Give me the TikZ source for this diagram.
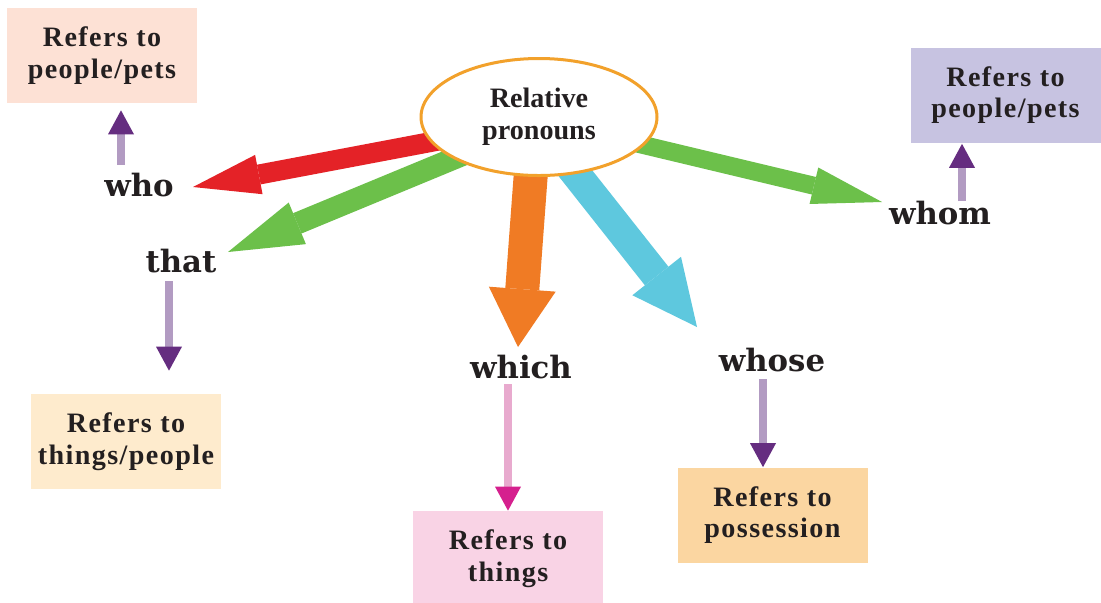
\documentclass[tikz,border=0pt]{standalone}
\usepackage{fontspec}
\setmainfont{Liberation Serif}
\newfontfamily\boxfont{Liberation Serif}[LetterSpace=5]
\newfontfamily\wordfont{DejaVu Serif}
\usetikzlibrary{arrows.meta,shapes.geometric,backgrounds,calc}

\definecolor{boxpeach}{HTML}{FDE1D5}
\definecolor{boxlilac}{HTML}{C7C3E1}
\definecolor{boxcream}{HTML}{FEEBCD}
\definecolor{boxpink}{HTML}{F9D3E5}
\definecolor{boxorange}{HTML}{FBD6A1}
\definecolor{ringorange}{HTML}{F2A12B}
\definecolor{arrowred}{HTML}{E42227}
\definecolor{arrowgreen}{HTML}{6CC04A}
\definecolor{arroworange}{HTML}{F07B24}
\definecolor{arrowcyan}{HTML}{5EC8DE}
\definecolor{shaftpurple}{HTML}{B29BC2}
\definecolor{headpurple}{HTML}{652D80}
\definecolor{shaftpink}{HTML}{E8AACE}
\definecolor{headpink}{HTML}{D5208E}
\definecolor{inkdark}{HTML}{231F20}

\begin{document}
\begin{tikzpicture}[x=0.2mm, y=-0.2mm, text=inkdark,
    infobox/.style={rectangle, minimum width=38mm, minimum height=19mm, inner sep=0pt,
      align=center, font=\boxfont\fontsize{16}{18}\selectfont\bfseries},
    pronoun/.style={inner sep=1pt, font=\wordfont\fontsize{17.5}{20}\selectfont\bfseries},
    bigarrow/.style={shorten <=-8mm},
    linkarrow/.style={line width=1.6mm, draw=shaftpurple,
      -{Triangle[length=4.8mm, width=5.2mm, line width=0pt, color=headpurple]}},
    pinkarrow/.style={line width=1.6mm, draw=shaftpink,
      -{Triangle[length=4.8mm, width=5.2mm, line width=0pt, color=headpink]}}]
    \useasboundingbox (0,0) rectangle (1101,602);

    % Define boxes
    \node[infobox, fill=boxpeach] (ppleft) at (102,55.5) {Refers to\\people/pets};
    \node[infobox, fill=boxlilac] (ppright) at (1005.5,95) {Refers to\\people/pets};
    \node[infobox, fill=boxcream] (tpbox) at (126,441.5) {Refers to\\things/people};
    \node[infobox, fill=boxpink] (thbox) at (508,558.5) {Refers to\\things};
    \node[infobox, fill=boxorange] (posbox) at (772.5,515) {Refers to\\possession};

    % Centre
    \node[ellipse, draw=ringorange, line width=0.6mm, fill=white, minimum width=47.2mm,
      minimum height=23.4mm, align=center, font=\fontsize{16}{18}\selectfont\bfseries]
      (rp) at (539,117) {Relative\\pronouns};

    % Pronouns
    \node[pronoun] (who) at (139,185) {who};
    \node[pronoun] (that) at (181,261) {that};
    \node[pronoun] (which) at (521,367) {which};
    \node[pronoun] (whose) at (772,360) {whose};
    \node[pronoun] (whom) at (940,213) {whom};

    % Big arrows
    \begin{scope}[on background layer]
        \fill[white] (0,0) rectangle (1101,602);
        \coordinate (whotip) at (193,187);
        \coordinate (thattip) at (228,252);
        \coordinate (whichtip) at (518,347);
        \coordinate (whosetip) at (697,327);
        \coordinate (whomtip) at (882,202);
        \draw[bigarrow, draw=arrowred, line width=4mm,
          -{Triangle[length=13.4mm, width=8mm, line width=0pt]}] (rp.193) -- (whotip);
        \draw[bigarrow, draw=arrowgreen, line width=4.4mm,
          -{Triangle[length=15mm, width=9mm, line width=0pt]}] (rp.206) -- (thattip);
        \draw[bigarrow, draw=arroworange, line width=6.8mm,
          -{Triangle[length=11.6mm, width=13.4mm, line width=0pt]}] (rp.262) -- (whichtip);
        \draw[bigarrow, draw=arrowcyan, line width=6mm,
          -{Triangle[length=13mm, width=12.4mm, line width=0pt]}] (rp.303) -- (whosetip);
        \draw[bigarrow, draw=arrowgreen, line width=3.6mm,
          -{Triangle[length=14mm, width=7.5mm, line width=0pt]}] (rp.345) -- (whomtip);
    \end{scope}

    % Draw links
    \draw[linkarrow] ($(who.north)+(-18,-6)$) -- ($(who.north |- ppleft.south)+(-18,7)$);
    \draw[linkarrow] ($(that.south)+(-12,6)$) -- ($(that.south |- tpbox.north)+(-12,-23)$);
    \draw[pinkarrow] ($(which.south)+(-13,3)$) -- ($(which.south |- thbox.north)+(-13,0)$);
    \draw[linkarrow] ($(whose.south)+(-9,5)$) -- ($(whose.south |- posbox.north)+(-9,0)$);
    \draw[linkarrow] ($(whom.north)+(22,2)$) -- ($(whom.north |- ppright.south)+(22,1)$);
\end{tikzpicture}
\end{document}
